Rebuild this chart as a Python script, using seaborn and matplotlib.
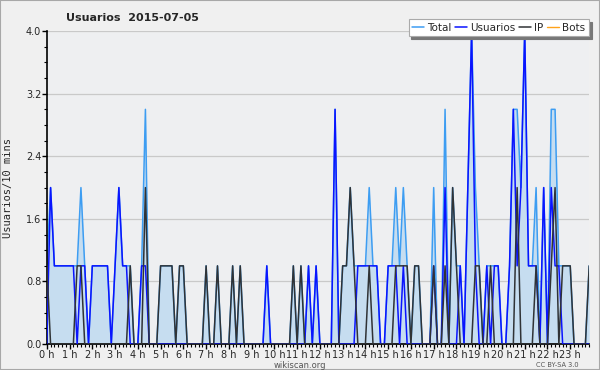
import numpy as np
import pandas as pd
import seaborn as sns
import matplotlib.pyplot as plt
from matplotlib.patches import Rectangle
from matplotlib.ticker import MultipleLocator

# Values per 10-minute slot (144 slots, 12 per row = 2 hours)
usuarios = [0, 2, 1, 1, 1, 1, 1, 1, 0, 1, 1, 0,
            1, 1, 1, 1, 1, 0, 1, 2, 1, 1, 0, 0,
            0, 1, 1, 0, 0, 0, 0, 0, 0, 0, 0, 0,
            0, 0, 0, 0, 0, 0, 0, 0, 0, 0, 0, 0,
            0, 0, 0, 0, 0, 0, 0, 0, 0, 0, 1, 0,
            0, 0, 0, 0, 0, 0, 0, 0, 0, 1, 0, 1,
            0, 0, 0, 0, 3, 0, 0, 0, 0, 0, 1, 1,
            1, 1, 1, 1, 0, 0, 1, 1, 1, 0, 1, 0,
            0, 0, 0, 0, 0, 0, 1, 0, 0, 2, 0, 0,
            0, 1, 0, 2, 4, 1, 0, 0, 1, 0, 1, 1,
            0, 0, 1, 3, 1, 2, 4, 1, 1, 1, 0, 2,
            0, 2, 1, 1, 0, 0, 0, 0, 0, 0, 0, 0]
ip = [1, 0, 0, 0, 0, 0, 0, 0, 1, 1, 0, 0,
      0, 0, 0, 0, 0, 0, 0, 0, 0, 0, 1, 0,
      0, 0, 2, 0, 0, 0, 1, 1, 1, 1, 0, 1,
      1, 0, 0, 0, 0, 0, 1, 0, 0, 1, 0, 0,
      0, 1, 0, 1, 0, 0, 0, 0, 0, 0, 0, 0,
      0, 0, 0, 0, 0, 1, 0, 1, 0, 0, 0, 0,
      0, 0, 0, 0, 0, 0, 1, 1, 2, 1, 0, 0,
      0, 1, 0, 0, 0, 0, 0, 0, 1, 1, 1, 1,
      0, 1, 1, 0, 0, 0, 1, 0, 0, 1, 0, 2,
      1, 0, 0, 0, 0, 1, 1, 0, 0, 1, 0, 0,
      0, 0, 0, 0, 2, 0, 0, 0, 0, 1, 0, 0,
      0, 1, 2, 0, 1, 1, 1, 0, 0, 0, 0, 1]
total = [1, 2, 1, 1, 1, 1, 1, 1, 1, 2, 1, 0,
         1, 1, 1, 1, 1, 0, 1, 2, 1, 1, 1, 0,
         0, 1, 3, 0, 0, 0, 1, 1, 1, 1, 0, 1,
         1, 0, 0, 0, 0, 0, 1, 0, 0, 1, 0, 0,
         0, 1, 0, 1, 0, 0, 0, 0, 0, 0, 1, 0,
         0, 0, 0, 0, 0, 1, 0, 1, 0, 1, 0, 1,
         0, 0, 0, 0, 3, 0, 1, 1, 2, 1, 1, 1,
         1, 2, 1, 1, 0, 0, 1, 1, 2, 1, 2, 1,
         0, 1, 1, 0, 0, 0, 2, 0, 0, 3, 0, 2,
         1, 1, 0, 2, 4, 2, 1, 0, 1, 1, 1, 1,
         0, 0, 1, 3, 3, 2, 4, 1, 1, 2, 0, 2,
         0, 3, 3, 1, 1, 1, 1, 0, 0, 0, 0, 1]
bots = [0] * 144
hour_labels = [f"{h} h" for h in range(24)]

sns.set_style("white")
plt.rcParams['font.family'] = ['DejaVu Sans']

df = pd.DataFrame({'slot': np.arange(len(total)), 'Total': total,
                   'Usuarios': usuarios, 'IP': ip, 'Bots': bots})

fig = plt.figure(figsize=(6, 3.7), dpi=100, facecolor='#f0f0f0')
fig.patches.append(Rectangle((0, 0), 1, 1, transform=fig.transFigure,
                             fill=False, edgecolor='#a8a8a8', lw=1.5))
ax = fig.add_axes([0.078, 0.070, 0.904, 0.846])
ax.set_facecolor('#eeeff1')

ax.fill_between(df['slot'], df['Total'], color='#c6ddf0', lw=0, zorder=1)
sns.lineplot(data=df, x='slot', y='Bots', color='#ffa31a', lw=1, ax=ax,
             label='Bots', zorder=1.5)
sns.lineplot(data=df, x='slot', y='Total', color='#3d9df2', lw=1.1, ax=ax,
             label='Total', zorder=2)
sns.lineplot(data=df, x='slot', y='Usuarios', color='#0a14ff', lw=1.1, ax=ax,
             label='Usuarios', zorder=3)
sns.lineplot(data=df, x='slot', y='IP', color='#303336', lw=1.1, ax=ax,
             label='IP', zorder=4)

ax.set_xlim(0, 143)
ax.set_ylim(0, 4.0)
ax.set_yticks(np.arange(0, 4.01, 0.8))
ax.set_yticklabels([f"{v:.1f}" for v in np.arange(0, 4.01, 0.8)])
ax.yaxis.set_minor_locator(MultipleLocator(0.2))
ax.set_xticks(np.arange(0, 144, 6))
ax.set_xticklabels(hour_labels)
ax.xaxis.set_minor_locator(MultipleLocator(1))
ax.tick_params(axis='both', which='major', length=3.5, width=1, color='black',
               labelsize=7, pad=0.5, direction='out')
ax.tick_params(axis='both', which='minor', length=2.5, width=0.8, color='black',
               direction='out')
ax.tick_params(axis='x', which='both', bottom=True)
ax.tick_params(axis='y', which='both', left=True)
ax.grid(axis='y', color='#c9c9c9', lw=0.9)
ax.set_axisbelow(True)
for side in ['top', 'right']:
    ax.spines[side].set_visible(False)
for side in ['left', 'bottom']:
    ax.spines[side].set_color('black')
    ax.spines[side].set_linewidth(1.2)
ax.set_xlabel('')
ax.set_ylabel('Usuarios/10 mins', family='DejaVu Sans Mono', fontsize=7.5,
              labelpad=9)

handles, labels = ax.get_legend_handles_labels()
order = [labels.index(n) for n in ['Total', 'Usuarios', 'IP', 'Bots']]
ax.get_legend().remove()
leg = fig.legend([handles[i] for i in order], [labels[i] for i in order],
                 loc='upper right', bbox_to_anchor=(0.99, 0.963), ncol=4,
                 fontsize=7.5, handlelength=1.1, handletextpad=0.3,
                 columnspacing=0.4, borderpad=0.35, fancybox=False,
                 shadow={'color': '#777777', 'alpha': 1}, framealpha=1,
                 edgecolor='#aaaaaa')
leg.get_frame().set_linewidth(0.8)

fig.text(0.22, 0.952, 'Usuarios  2015-07-05', fontsize=8, fontweight='bold',
         ha='center', va='center')
fig.text(0.5, 0.013, 'wikiscan.org', fontsize=6, color='#555555',
         ha='center', va='center')
fig.text(0.965, 0.013, 'CC BY-SA 3.0', fontsize=4.8, color='#555555',
         ha='right', va='center')

fig.savefig('out.png', dpi=100, facecolor=fig.get_facecolor())
